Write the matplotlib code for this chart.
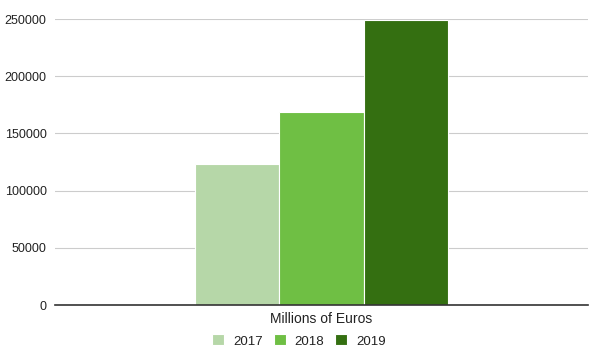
import numpy as np
import matplotlib.pyplot as plt

plt.rcParams['font.family'] = ['Liberation Sans', 'DejaVu Sans']

category = "Millions of Euros"
years = ["2017", "2018", "2019"]
values = [123300, 168600, 249100]
colors = ["#b6d7a8", "#6fbf44", "#346f11"]
yticks = [0, 50000, 100000, 150000, 200000, 250000]

fig = plt.figure(figsize=(5.98, 3.52), dpi=100)
ax = fig.add_axes([55/598, 47/352, 533/598, (305-19)/352])

offsets = np.arange(len(years)) - 1
for off, v, c, lab in zip(offsets, values, colors, years):
    ax.bar(off, v, width=1.0, color=c, edgecolor="white", linewidth=0.8, label=lab, zorder=3)

ax.set_xlim(-3.17, 3.17)
ax.set_ylim(0, 250000)
ax.set_yticks(yticks)
ax.set_yticklabels([str(t) for t in yticks], fontsize=9, color="#222222")
ax.yaxis.grid(True, color="#cccccc", linewidth=0.8, zorder=0)
ax.tick_params(axis="y", length=0, pad=6)
ax.set_xticks([0])
ax.set_xticklabels([category], fontsize=10, color="#222222")
ax.tick_params(axis="x", length=0, pad=5)
for s in ["top", "right", "left"]:
    ax.spines[s].set_visible(False)
ax.spines["bottom"].set_color("#333333")
ax.spines["bottom"].set_linewidth(1.2)
ax.spines["bottom"].set_zorder(4)

fig.legend(loc="center", bbox_to_anchor=(299/598, 1-341/352), ncol=3, frameon=False,
           fontsize=9.5, handlelength=0.9, handleheight=0.9, handletextpad=0.7,
           columnspacing=0.8, labelcolor="#222222")

fig.savefig("out.png", dpi=100)
